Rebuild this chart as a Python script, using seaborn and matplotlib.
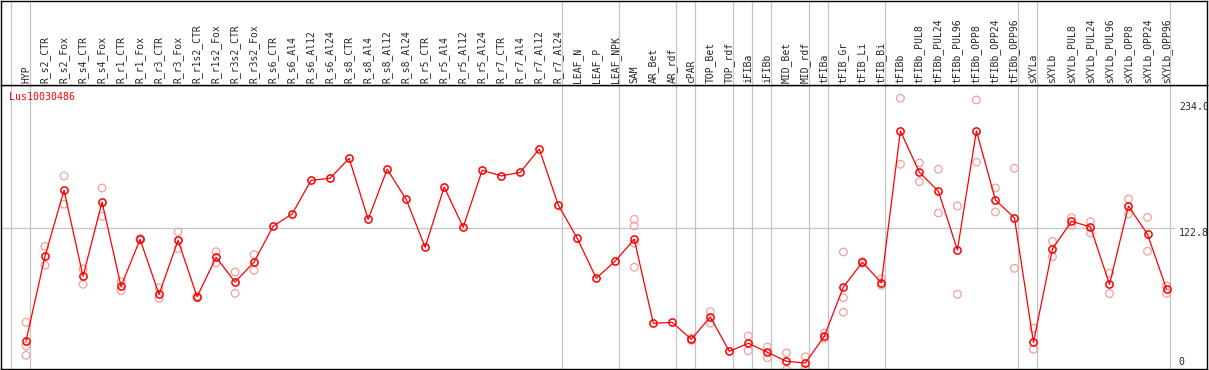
import numpy as np
import pandas as pd
import matplotlib
matplotlib.use("Agg")
import matplotlib.pyplot as plt
import seaborn as sns

sns.set_style("white")
plt.rcParams["font.family"] = ["DejaVu Sans Mono", "DejaVu Sans"]

gene = "Lus10030486"

samples = [
    "HYP", "R_s2_CTR", "R_s2_Fox", "R_s4_CTR", "R_s4_Fox", "R_r1_CTR", "R_r1_Fox",
    "R_r3_CTR", "R_r3_Fox", "R_r1s2_CTR", "R_r1s2_Fox", "R_r3s2_CTR", "R_r3s2_Fox",
    "R_s6_CTR", "R_s6_Al4", "R_s6_Al12", "R_s6_Al24", "R_s8_CTR", "R_s8_Al4",
    "R_s8_Al12", "R_s8_Al24", "R_r5_CTR", "R_r5_Al4", "R_r5_Al12", "R_r5_Al24",
    "R_r7_CTR", "R_r7_Al4", "R_r7_Al12", "R_r7_Al24", "LEAF_N", "LEAF_P", "LEAF_NPK",
    "SAM", "AR_Bet", "AR_rdf", "cPAR", "TOP_Bet", "TOP_rdf", "iFIBa", "iFIBb",
    "MID_Bet", "MID_rdf", "tFIBa", "tFIB_Gr", "tFIB_Li", "tFIB_Bi", "tFIBb",
    "tFIBb_PUL8", "tFIBb_PUL24", "tFIBb_PUL96", "tFIBb_OPP8", "tFIBb_OPP24",
    "tFIBb_OPP96", "sXYLa", "sXYLb", "sXYLb_PUL8", "sXYLb_PUL24", "sXYLb_PUL96",
    "sXYLb_OPP8", "sXYLb_OPP24", "sXYLb_OPP96",
]

# mean expression per sample
means = [
    26.4, 98.9, 155.3, 81.8, 145.3, 73.2, 113.4, 66.4, 112.6, 64.3, 98.0, 76.9, 94.0,
    124.6, 135.1, 163.9, 165.6, 182.7, 130.5, 173.3, 147.6, 106.6, 158.2, 123.7, 172.5,
    167.6, 170.7, 190.7, 142.8, 114.3, 80.1, 94.9,
    113.4, 41.6, 42.4, 27.9, 47.0, 17.6, 24.5, 16.8, 9.1, 7.6,
    30.5, 72.6, 93.8, 76.3, 206.1, 170.7, 154.5, 104.3, 206.1, 147.1, 131.7,
    25.3, 105.1, 128.8, 124.0, 74.9, 141.9, 117.7, 70.9,
]

# individual replicates
replicates = [
    [42.4, 22.2, 14.2], [107.4, 91.2], [167.6, 143.4], [88.0, 74.9], [157.3, 133.1],
    [77.2, 69.5], [114.1, 112.8], [71.8, 63.0], [119.7, 105.4], [64.9, 63.6],
    [102.8, 93.4], [85.5, 67.2], [100.3, 86.9],
    [], [], [], [], [], [], [], [], [], [], [], [], [], [], [], [], [], [], [],
    [130.5, 124.8, 110.0, 89.5], [], [], [28.7, 27.0], [51.5, 41.6], [],
    [30.7, 18.1], [21.3, 12.1], [16.2, 1.9], [13.0, 2.2],
    [33.3, 28.7], [102.6, 63.5, 51.0], [94.5, 93.1], [79.7, 74.1],
    [234.0, 177.6], [178.7, 162.7], [173.3, 135.9], [141.9, 66.4], [232.6, 179.3],
    [157.3, 136.8], [174.2, 88.6],
    [37.3, 19.3], [111.7, 98.5], [131.9, 125.4], [128.5, 118.8], [84.3, 66.9],
    [147.9, 135.1], [132.2, 103.2], [73.5, 67.2],
]

# sample index after which a group separator is drawn
group_ends = [-1, 0, 28, 31, 34, 35, 37, 38, 39, 41, 42, 45, 52, 53, 60]

y_ticks = [234.0, 122.8, 0]
y_tick_labels = ["234.0", "122.8", "0"]

df = pd.DataFrame({"pos": np.arange(len(samples)), "sample": samples, "mean": means})
rep_df = pd.DataFrame(
    [(i, v) for i, vals in enumerate(replicates) for v in vals], columns=["pos", "value"]
)

fig = plt.figure(figsize=(12.09, 3.70), dpi=100)
ax = fig.add_axes([1 / 1209, 1 / 370, 1206 / 1209, 284 / 370])
ax_head = fig.add_axes([1 / 1209, 285 / 370, 1206 / 1209, 84.5 / 370], sharex=ax)

xlim = (-1.315, 62.13)
ax.set_xlim(*xlim)
ax.set_ylim(2.48, 245.4)
ax_head.set_ylim(0, 1)

grey = "#c4c4c4"
for a in (ax, ax_head):
    for g in group_ends:
        a.axvline(g + 0.2, color=grey, lw=0.9, zorder=0)
    a.set_xticks([])
    a.set_yticks([])
    for s in a.spines.values():
        s.set_color("black")
        s.set_linewidth(1.0)

ax.hlines(y_ticks[1], xlim[0], 60.45, color=grey, lw=0.9, zorder=0)

sns.scatterplot(
    data=rep_df, x="pos", y="value", ax=ax, marker="o", s=30,
    facecolor="none", edgecolor="#f0a0a0", linewidth=0.9, zorder=2, legend=False,
)
sns.lineplot(
    data=df, x="pos", y="mean", ax=ax, color="#ff0000", lw=0.9, marker="o",
    markersize=5.2, markerfacecolor="none", markeredgecolor="#ff0000",
    markeredgewidth=1.1, zorder=3,
)
ax.set_xlabel("")
ax.set_ylabel("")

# sample names across the top
for i, name in enumerate(samples):
    ax_head.text(i, 0.025, name, rotation=90, ha="center", va="bottom", fontsize=7)

ax.text(-0.88, 235.2, gene, color="#ff0000", fontsize=7.1, va="center", ha="left")

label_y = [226.3, 119.1, 8.5]
for yl, lab in zip(label_y, y_tick_labels):
    ax.text(60.65, yl, lab, fontsize=7.1, va="center", ha="left", clip_on=True)

fig.savefig("out.png", dpi=100)
